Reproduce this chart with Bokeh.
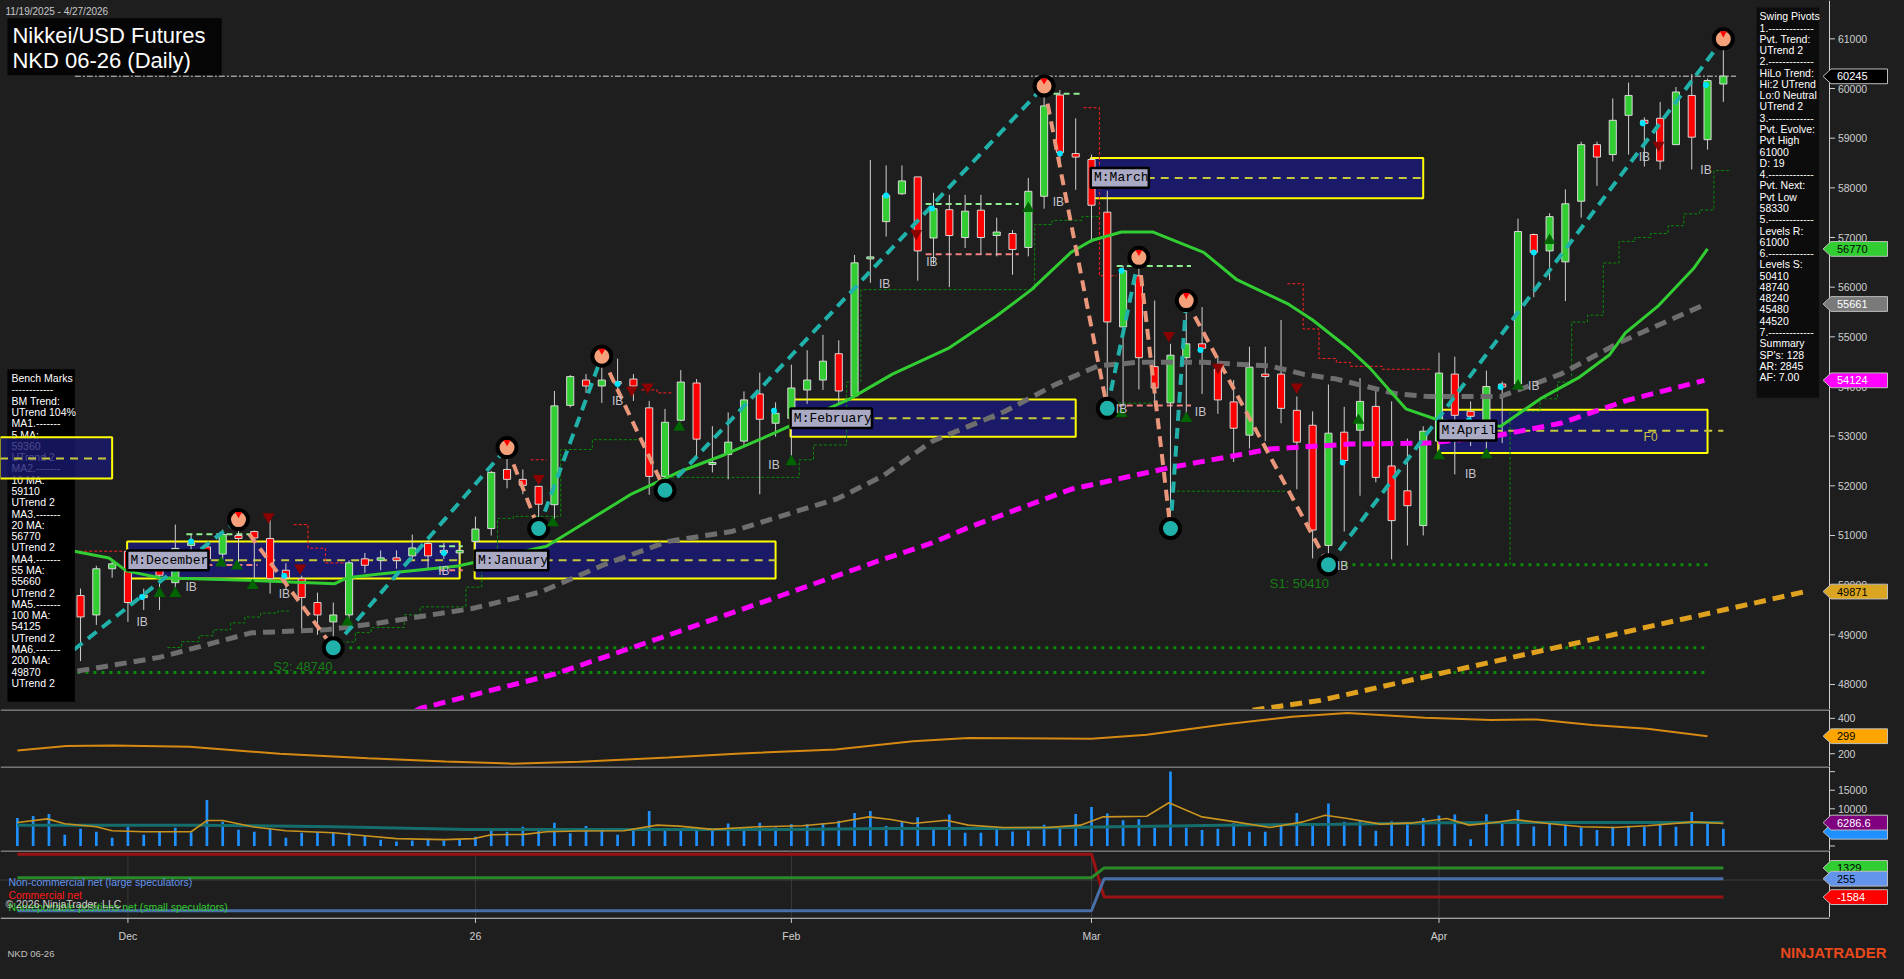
from bokeh.plotting import figure
from bokeh.layouts import column
from bokeh.models import Range1d, GlobalInlineStyleSheet
from bokeh.core.properties import value
from bokeh.embed import file_html
from bokeh.resources import INLINE

# ---------------- DATA ----------------
bar_open = [49000,49400,49200,49700,49790,49400,50330,50680,49750,50300,
            50050,50800,50770,50625,51000,51080,50940,50300,50130,49650,
            49260,49400,50530,50500,50550,50590,50840,50700,50650,50880,
            51140,52330,52130,51990,51620,53620,54130,54010,54100,54150,
            53570,52190,53320,54070,52440,52630,52900,53850,53260,53360,
            53930,54130,54660,53810,56580,57320,57880,58220,56990,57560,
            57000,57550,57040,57080,56800,57830,59870,58690,58570,57510,
            55200,56230,54400,53670,54580,54860,54350,53690,53020,54250,
            54250,53520,53220,50800,53080,53120,53600,52400,51900,51200,
            52900,54250,53500,53120,54050,54050,57060,56730,56510,57730,
            58870,58670,59460,59360,59400,58870,59860,58970,60090]
bar_high = [49600,49700,49900,50100,49930,50390,50490,50740,49930,50350,
            51220,51020,50800,51120,51320,51100,51400,50440,50190,49850,
            49650,50500,50650,50700,50700,51020,50900,50850,50800,51380,
            52300,52770,52330,52000,53910,54230,54250,54610,54560,54250,
            53710,53550,54330,54150,53200,53480,53900,54280,53680,54440,
            54730,55040,54930,56650,58560,58450,58450,58220,57900,57860,
            57860,57860,57400,57150,58200,60050,59970,59400,58670,57940,
            56430,56600,55730,54860,55730,55600,54600,54130,54800,54800,
            55340,53800,53500,54040,53590,54170,53950,53700,52950,53200,
            54680,54600,53700,54320,54100,57380,57080,57490,57970,58930,
            58930,59800,60120,59420,59730,60030,60290,60200,61000]
bar_low = [48700,48900,49000,49300,48470,49200,50150,49260,49500,49500,
           49950,50620,50500,50380,50350,50130,49830,49900,49040,49000,
           48740,49100,50250,50300,50330,50530,50330,50530,50500,50700,
           51000,51950,51830,51140,51200,53580,53870,53670,53850,53710,
           51820,51910,53300,52570,52270,52130,52800,51830,52990,52560,
           53650,53930,53650,53810,56090,57020,57860,56130,56460,56000,
           56790,56660,56620,56250,56620,57580,58500,57960,56900,53560,
           53600,53940,53600,51140,53430,53850,53450,52480,52750,52900,
           53260,51930,50540,50410,51080,51800,52070,50520,50800,51000,
           52600,52230,52800,52680,52860,54050,55800,56140,55720,57400,
           58040,58530,58670,58430,58370,58870,58370,58770,59730]
bar_close = [49400,49200,49700,49800,49360,50330,50430,49650,49800,50200,
             50740,50850,50530,51020,50940,50950,50130,50150,49750,49400,
             49400,50450,50400,50550,50500,50750,50590,50650,50700,51130,
             52270,52130,52010,51630,53610,54200,54010,54130,54050,54010,
             52190,53280,54090,52940,52460,52880,53730,53340,53460,53970,
             54130,54510,53910,56490,56600,57850,58140,56730,57580,57040,
             57530,57000,57110,56760,57930,59650,58710,58620,57650,55300,
             56330,54580,53970,54630,54860,54770,53730,53160,54390,54200,
             53560,52880,51110,53060,52510,53700,52170,51300,51600,53100,
             54270,53420,53400,54000,53990,57120,56700,57420,57680,58870,
             58620,59360,59860,59300,58540,59930,59020,60160,60250]
volume = [7554,8086,8618,3033,4629,3831,2235,5161,3033,3831,
          4895,3654,12344,6491,4363,3831,4629,2235,3565,3831,
          3565,3565,2767,1703,1171,1437,1969,1437,1703,2501,
          4097,3831,5161,4097,6225,3388,5338,4718,3033,4629,
          9418,4452,4097,4097,4629,6048,4629,6225,4984,5870,
          5870,6136,6757,8884,9418,5338,6579,7732,4540,8441,
          3565,3565,5161,3920,4097,5693,4718,8618,10480,8707,
          6934,7200,4806,20058,4895,4274,4629,6136,3831,3831,
          5338,8884,5338,11457,6491,6934,4097,6668,6136,7554,
          8175,8441,1791,8530,6048,9684,5250,6491,5693,4984,
          4274,5161,5427,5072,6491,5161,9152,6402,4629]

month_tick_bars = [7, 29, 49, 68, 90]
month_tick_labels = ["Dec", "26", "Feb", "Mar", "Apr"]
price_ticks = [48000, 49000, 50000, 51000, 52000, 53000, 54000, 55000, 56000, 57000, 58000, 59000, 60000, 61000]
ind_ticks = [200, 400]
vol_ticks = [0, 5000, 10000, 15000, 20000]
vol_tick_labels = ["", "5000", "10000", "15000", ""]

ma20_bars = [3.6,5.8,6.9,9.0,15.3,20.1,20.9,22.8,27.9,33.5,38.9,41.8,44.8,47.9,52.7,55.4,59.0,61.9,64.2,
             66.7,68.0,69.9,71.9,75.1,77.2,80.4,82.0,84.3,85.6,87.9,90.0,92.5,93.9,96.4,98.9,100.8,101.8,103.9,106.1,107.0]
ma20_vals = [50684,50546,50288,50150,50090,50030,50150,50220,50387,50783,51839,52268,52631,53060,53750,54250,54780,55400,55950,
             56700,56940,57110,57110,56700,56150,55670,55340,54760,54380,53550,53320,53220,53200,53750,54190,54640,55080,55630,56370,56770]
ma55_bars = [3.8,9.0,14.8,19.5,22.8,28.8,33.1,37.2,41.2,45.2,51.9,54.8,57.9,62.5,65.7,68.4,70.9,75.1,79.3,81.4,83.5,87.3,89.3,93.9,97.7,101.4,103.9,106.9]
ma55_vals = [48270,48546,49040,49100,49233,49530,49860,50420,50882,51080,51740,52200,52896,53496,54038,54415,54486,54486,54415,54248,54150,53852,53799,53799,54248,54882,55238,55661]
ma100_bars = [22.0,25.5,34.0,40.7,47.5,54.2,57.9,60.2,66.7,73.0,79.3,84.3,89.3,93.5,97.7,101.9,106.8]
ma100_vals = [46950,47516,48209,48936,49694,50453,50850,51160,51930,52370,52740,52840,52860,53000,53260,53720,54124]
ma200_bars = [78.2, 82.5, 113.2]
ma200_vals = [47480, 47680, 49871]

pivot_bars = [0, 14, 20, 31, 33, 37, 41, 65, 69, 71, 73, 74, 83, 108]
pivot_prices = [47800, 51320, 48740, 52770, 51140, 54610, 51910, 60050, 53560, 56600, 51140, 55730, 50410, 61000]

box_names = ["M:December", "M:January", "M:February", "M:March", "M:April"]
box_first = [7, 29, 49, 68, 90]
box_last = [28, 48, 67, 89, 107]
box_low = [50135, 50135, 52990, 57790, 52660]
box_high = [50880, 50880, 53740, 58600, 53530]
box_mid = [50500, 50500, 53360, 58200, 53110]
nov_box = [-1.1, 6.0, 52150, 52980, 52550]

support_prices = [50410, 48740, 48240]
support_from = [83, 20, 3.8]
support_to = [107, 107, 107]
last_price = 60245

stop_green = [
    ([9.5,10.4,11.5,12.4,13.5,14.4,15.4,16.5,17.3], [48744,48863,48982,49101,49240,49358,49438,49478,49478]),
    ([20.5,21.4,22.4,24.5,25.5,28.4,29.4,30.4,31.4,34.4,36.4,39.4], [48856,49048,49147,49404,49563,49959,50553,51345,51385,52731,52929,52929]),
    ([41.4,49.5,50.4,52.5,53.4,64.0,64.4,65.5,67.4,68.5], [52170,52525,52823,54090,55950,55950,57260,57345,57420,57420]),
    ([69.7,71.9], [53665,53665]),
    ([73.4,80.4], [51892,51892]),
    ([94.5,94.5,96.4,97.5,98.4,99.4,100.4,101.4,102.4,103.4,104.5,105.5,106.5,107.4,108.5],
     [50410,53500,53753,54090,55298,55436,56486,56921,57000,57080,57238,57476,57555,58347,58347]),
]
stop_red = [
    ([3.6,6.9], [50684,50684]),
    ([17.5,18.4,19.5,20.7], [51219,50744,50447,50447]),
    ([32.5,33.5], [52525,52525]),
    ([39.5,40.5,41.4], [53931,53872,53872]),
    ([67.5,68.5,69.6], [59614,56230,56230]),
    ([80.4,81.4,82.4,83.5,84.4,86.4,89.5], [56070,55159,54565,54486,54407,54347,54347]),
]
ibline_from = [10.7, 10.7, 26.7, 26.7, 57.5, 57.5, 65.6, 69.6, 69.6]
ibline_to = [15.2, 15.2, 28.2, 28.2, 63.4, 63.4, 67.4, 74.3, 74.3]
ibline_price = [51027, 50407, 50783, 50302, 57674, 56664, 59895, 56426, 53615]
ibline_is_high = [True, False, True, False, True, False, True, True, False]

ib_bars = [7.9,11.0,16.9,27.0,38.0,47.9,54.9,57.9,65.9,69.9,74.9,83.9,92.0,96.0,103.0,106.9]
ib_prices = [49259,49971,49813,50288,53714,52427,56070,56505,57713,53555,53496,50387,52229,54010,58624,58367]
up_sig_bars = [9.0,10.0,12.9,13.9,14.9,20.9,33.9,41.9,49.0,64.0,69.9,74.0,84.9,90.0,93.0,95.0,97.0]
up_sig_prices = [49833,49833,50447,50387,49990,49259,51258,53179,52486,57585,53456,53357,53318,52605,52625,54010,56941]
dn_sig_bars = [15.9,17.9,33.0,38.9,39.9,56.9,72.9,76.0,81.0,103.9]
dn_sig_prices = [51377,50348,52150,53930,53990,57080,55030,54387,53990,58860]
dot_bars = [7.9,11.0,16.9,27.0,38.0,47.9,55.0,57.9,66.0,69.9,74.9,83.9,91.9,93.9,96.0,102.9,106.9]
dot_prices = [49760,50880,50190,50650,54050,53510,57846,57585,58690,56330,54733,52470,53320,53990,56700,59300,60070]

ind_bars = [0,3.1,6.0,10.9,16.6,22.2,27.1,31.3,35.6,41.2,45.5,51.8,56.7,60.2,68.0,71.5,76.5,80.7,84.2,89.1,93.3,96.2,99.7,103.2,107.0]
ind_vals = [218,243,246,239,200,174,156,144,154,178,200,224,270,289,285,307,367,409,430,404,391,394,363,341,299]

vma_bars = [0,1.9,3,5,6,8,11,12,13,14.9,17,20,22,24,27,28.9,30,32.1,33.5,35.6,38.4,40.5,41.9,44.0,46.9,49.7,51.8,53.9,
            55.3,56.7,58.8,60.2,62.4,65.2,67.3,68.7,71.5,72.9,75.0,77.1,79.3,81.4,82.8,84.2,86.3,88.4,90.5,91.9,93.4,94.8,
            96.9,99.0,101.1,103.2,106.1,108]
vma_vals = [6304,7288,5958,5160,4096,3830,3830,6836,6836,5160,4096,3564,2766,1968,1702,1968,3032,3122,3831,4008,4097,5604,5338,4452,5161,5427,6225,7820,
            7111,6047,6934,5604,4983,4983,5604,7820,7997,11633,7820,6490,4983,6490,8264,7377,5870,6225,7377,5604,6225,7111,
            6047,5161,4983,5427,6490,6047]
vavg_bars = [0,11.6,20.1,28.5,38.4,48.3,55.3,62.4,69.4,76.4,83.5,90.5,97.6,108]
vavg_vals = [5604,5604,5161,4452,4452,4452,4718,4718,5161,5604,5870,6225,6313,6287]

cot_bars = [0, 68, 68.8, 108]
cot_commercial = [2706, 2706, -1584, -1584]
cot_noncommercial = [-2953, -2953, 255, 255]
cot_nonreportable = [345, 345, 1329, 1329]

bench_lines = ["Bench Marks", "------------", "BM Trend:", "UTrend 104%", "MA1.-------", "5 MA:", "59360", "UTrend 2",
               "MA2.-------", "10 MA:", "59110", "UTrend 2", "MA3.-------", "20 MA:", "56770", "UTrend 2",
               "MA4.-------", "55 MA:", "55660", "UTrend 2", "MA5.-------", "100 MA:", "54125", "UTrend 2",
               "MA6.-------", "200 MA:", "49870", "UTrend 2"]
swing_lines = ["Swing Pivots", "1.-------------", "Pvt. Trend:", "UTrend 2", "2.-------------", "HiLo Trend:",
               "Hi:2 UTrend", "Lo:0 Neutral", "UTrend 2", "3.-------------", "Pvt. Evolve:", "Pvt High", "61000",
               "D: 19", "4.-------------", "Pvt. Next:", "Pvt Low", "58330", "5.-------------", "Levels R:", "61000",
               "6.-------------", "Levels S:", "50410", "48740", "48240", "45480", "44520", "7.-------------",
               "Summary", "SP's: 128", "AR: 2845", "AF: 7.00"]

# ---------------- STYLE / GEOMETRY ----------------
BG = "#1e1e1e"
FONT = "Liberation Sans"
AXC = "#cfcfcf"
W = 1888


def mx(X):  # reference pixel x -> bar index
    return (X - 17.0) / 15.93


def my(Y):  # reference pixel y -> price (main panel)
    return 61000.0 - (Y - 39.0) * 19.8


def iv(Y):  # indicator panel
    return 400.0 - (Y - 730.0) * 5.556


def vv(Y):  # volume panel
    return (859.4 - Y) * 266.0


def cyv(Y):  # COT panel
    return -1584.0 - (Y - 911.3) * 98.4


def fy(Y):  # footer panel uses reference pixels directly
    return Y


XR = Range1d(mx(0), mx(1904))
AX = mx(1844.5)


def make_fig(h, conv, top_ref, bot_ref):
    p = figure(width=W, height=h, x_range=XR, y_range=Range1d(conv(bot_ref), conv(top_ref)), title=None,
               output_backend="svg", toolbar_location=None, x_axis_location=None, y_axis_location=None,
               min_border_left=0, min_border_right=0, min_border_top=0, min_border_bottom=0,
               background_fill_color=BG, border_fill_color=BG, outline_line_color=None)
    p.grid.visible = False
    return p


def right_axis(p, conv, top_ref, bot_ref, ticks, labels):
    p.line([AX, AX], [conv(bot_ref), conv(top_ref)], line_color=AXC, line_width=1)
    n = len(ticks)
    p.segment(x0=[AX] * n, x1=[mx(1850)] * n, y0=ticks, y1=ticks, line_color=AXC, line_width=1)
    p.text([mx(1853)] * n, ticks, text=labels, text_font=value(FONT), text_font_size="10.5px",
           text_color=AXC, text_align="left", text_baseline="middle")


def tag(p, upp, y, txt, bg, fg):
    h = 7.5 * upp
    p.patch([mx(1838), mx(1846), mx(1903), mx(1903), mx(1846)], [y, y + h, y + h, y - h, y - h],
            fill_color=bg, line_color="#bdbdbd", line_width=1)
    p.text([mx(1852)], [y], text=[txt], text_font=value(FONT), text_font_size="11px",
           text_color=fg, text_align="left", text_baseline="middle")


def top_divider(p, conv, top_ref):
    p.line([mx(0), AX], [conv(top_ref + 0.5), conv(top_ref + 0.5)], line_color=AXC, line_width=1)


# ---------------- MAIN PRICE PANEL ----------------
main = make_fig(709, my, 0, 721)

lefts = [f - 0.05 for f in box_first]
main.quad(left=lefts, right=box_last, bottom=box_low, top=box_high,
          fill_color="#191970", fill_alpha=0.9, line_color="#ffff00", line_width=2)
mid_right = list(box_last)
mid_right[-1] = 108.0
main.segment(x0=lefts, x1=mid_right, y0=box_mid, y1=box_mid, line_color="#c8c83c", line_width=2, line_dash="8 6")

main.segment(x0=support_from, x1=support_to, y0=support_prices, y1=support_prices,
             line_color="#0b8a0b", line_width=3, line_dash="3 5")
for xs, ys in stop_green:
    main.step(xs, ys, mode="after", line_color="#0a8a0a", line_width=1, line_dash="3 2")
for xs, ys in stop_red:
    main.step(xs, ys, mode="after", line_color="#ff2020", line_width=1, line_dash="3 2")
main.segment(x0=ibline_from, x1=ibline_to, y0=ibline_price, y1=ibline_price,
             line_color=["#90ee90" if h else "#f08080" for h in ibline_is_high], line_width=2, line_dash="6 4")
main.line([mx(75), 108.8], [last_price, last_price], line_color="#9a9a9a", line_width=1.5, line_dash="6 2 2 2")

bars = list(range(len(bar_open)))
body_top, body_bot, body_col = [], [], []
for o, c in zip(bar_open, bar_close):
    t, b = max(o, c), min(o, c)
    if t - b < 40:
        m = (t + b) / 2.0
        t, b = m + 20, m - 20
    body_top.append(t)
    body_bot.append(b)
    body_col.append("#32cd32" if c >= o else "#ff0000")
main.segment(x0=bars, y0=bar_low, x1=bars, y1=bar_high, line_color="#cfcfcf", line_width=1)
main.vbar(x=bars, width=0.45, top=body_top, bottom=body_bot, fill_color=body_col,
          line_color="#d8d8d8", line_width=1)

main.line(ma100_bars, ma100_vals, line_color="#ff00ff", line_width=5, line_dash="12 7")
main.line(ma55_bars, ma55_vals, line_color="#6e6e6e", line_width=5, line_dash="12 7")
main.line(ma200_bars, ma200_vals, line_color="#e0a21e", line_width=5, line_dash="12 7")
main.line(ma20_bars, ma20_vals, line_color="#32cd32", line_width=3)

up_xs, up_ys, dn_xs, dn_ys = [], [], [], []
for k in range(len(pivot_bars) - 1):
    seg_x = [pivot_bars[k], pivot_bars[k + 1]]
    seg_y = [pivot_prices[k], pivot_prices[k + 1]]
    if pivot_prices[k + 1] > pivot_prices[k]:
        up_xs.append(seg_x); up_ys.append(seg_y)
    else:
        dn_xs.append(seg_x); dn_ys.append(seg_y)
main.multi_line(up_xs, up_ys, line_color="#20b2aa", line_width=4, line_dash="11 7")
main.multi_line(dn_xs, dn_ys, line_color="#e9967a", line_width=4, line_dash="11 7")
is_high = [pivot_prices[k] > pivot_prices[k - 1] if k > 0 else False for k in range(len(pivot_prices))]
main.scatter(pivot_bars[1:], pivot_prices[1:], size=19, marker="circle",
             fill_color=["#f4a07a" if h else "#20b2aa" for h in is_high[1:]],
             line_color="#000000", line_width=4)
hx = [b for b, h in zip(pivot_bars, is_high) if h]
hy = [v + 110 for v, h in zip(pivot_prices, is_high) if h]
main.scatter(hx, hy, marker="inverted_triangle", size=7, fill_color="#ff0000", line_color=None)

main.scatter(up_sig_bars, up_sig_prices, marker="triangle", size=12, fill_color="#006400", line_color=None)
main.scatter(dn_sig_bars, dn_sig_prices, marker="inverted_triangle", size=12, fill_color="#8b0000", line_color=None)
main.scatter(dot_bars, dot_prices, marker="circle", size=6, fill_color="#00e5ff", line_color=None)
main.text(ib_bars, ib_prices, text=["IB"] * len(ib_bars), text_font=value(FONT), text_font_size="12px",
          text_color="#c4c4cc", text_align="center", text_baseline="middle")

main.text([mx(275), mx(1280)], [my(677), my(593)], text=["S2: 48740", "S1: 50410"],
          text_font=value(FONT), text_font_size="13px", text_color="#167d16",
          text_align="left", text_baseline="middle")
main.text([mx(1657)], [my(444)], text=["F0"], text_font=value(FONT), text_font_size="12px",
          text_color="#c8c040", text_align="left", text_baseline="middle")

# month labels (grey tags with black frame)
lab_w = [len(nm) * 7.8 + 4 for nm in box_names]
main.quad(left=lefts, right=[f - 0.05 + w / 15.93 for f, w in zip(box_first, lab_w)],
          bottom=[m - 10 * 19.8 for m in box_mid], top=[m + 10 * 19.8 for m in box_mid],
          fill_color="#aaaac4", line_color="#000000", line_width=2.5)
main.text([f + 2.5 / 15.93 for f in box_first], box_mid, text=box_names, text_font=value("Liberation Mono"),
          text_font_size="13px", text_color="#000000", text_align="left", text_baseline="middle")

# bench marks box + november box
main.quad(left=[mx(7)], right=[mx(75)], top=[my(375)], bottom=[my(713)], fill_color="#000000", line_color=None)
main.text([mx(11)] * len(bench_lines), [my(384 + 11.48 * k) for k in range(len(bench_lines))], text=bench_lines,
          text_font=value(FONT), text_font_size="10.5px", text_color="#ffffff",
          text_align="left", text_baseline="middle")
main.quad(left=[nov_box[0]], right=[nov_box[1]], bottom=[nov_box[2]], top=[nov_box[3]],
          fill_color="#191970", fill_alpha=0.8, line_color="#ffff00", line_width=2)
main.line([nov_box[0], nov_box[1]], [nov_box[4], nov_box[4]], line_color="#c8c83c", line_width=2, line_dash="8 6")

# swing pivots box
main.quad(left=[mx(1771)], right=[mx(1834)], top=[my(7)], bottom=[my(404)], fill_color="#0c0c0c", line_color=None)
main.text([mx(1774)] * len(swing_lines), [my(16 + 11.47 * k) for k in range(len(swing_lines))], text=swing_lines,
          text_font=value(FONT), text_font_size="10.5px", text_color="#ffffff",
          text_align="left", text_baseline="middle")

# title
main.text([mx(5)], [my(11)], text=["11/19/2025 - 4/27/2026"], text_font=value(FONT), text_font_size="10px",
          text_color="#c8c8c8", text_align="left", text_baseline="middle")
main.quad(left=[mx(7)], right=[mx(223)], top=[my(18)], bottom=[my(76)], fill_color="#050505", line_color=None)
main.text([mx(12), mx(12)], [my(36), my(61)], text=["Nikkei/USD Futures", "NKD 06-26 (Daily)"],
          text_font=value(FONT), text_font_size="22px", text_color="#ffffff",
          text_align="left", text_baseline="middle")

right_axis(main, my, 0, 721, price_ticks, [str(t) for t in price_ticks])
tag(main, 19.8, 60245, "60245", "#000000", "#ffffff")
tag(main, 19.8, 56770, "56770", "#32cd32", "#000000")
tag(main, 19.8, 55661, "55661", "#7a7a7a", "#ffffff")
tag(main, 19.8, 54124, "54124", "#ff00ff", "#ffffff")
tag(main, 19.8, 49871, "49871", "#daa520", "#000000")

# ---------------- INDICATOR PANEL ----------------
ind = make_fig(57, iv, 721, 779)
top_divider(ind, iv, 721)
ind.line(ind_bars, ind_vals, line_color="#d68a12", line_width=2)
right_axis(ind, iv, 721, 779, ind_ticks, [str(t) for t in ind_ticks])
tag(ind, 5.556, 299, "299", "#ffa500", "#000000")

# ---------------- VOLUME PANEL ----------------
vol = make_fig(84, vv, 779, 864)
top_divider(vol, vv, 779)
vol.vbar(x=bars, width=0.17, top=volume, bottom=0, fill_color="#1e90ff", line_color=None)
vol.line(vavg_bars, vavg_vals, line_color="#156e6e", line_width=3)
vol.line(vma_bars, vma_vals, line_color="#c8921e", line_width=1.6)
right_axis(vol, vv, 779, 864, vol_ticks, vol_tick_labels)
tag(vol, 266, vv(845), "", "#1e90ff", "#000000")
tag(vol, 266, 6287, "6286.6", "#800080", "#ffffff")

# ---------------- COT PANEL ----------------
cot = make_fig(67, cyv, 864, 932)
top_divider(cot, cyv, 864)
nt = len(month_tick_bars)
cot.segment(x0=month_tick_bars, x1=month_tick_bars, y0=[cyv(932)] * nt, y1=[cyv(865)] * nt,
            line_color="#3a3a3a", line_width=1)
cot.line([mx(0), AX], [cyv(894), cyv(894)], line_color="#3c3c3c", line_width=1)
cot.line(cot_bars, cot_commercial, line_color="#9a1212", line_width=3)
cot.line(cot_bars, cot_nonreportable, line_color="#2a8a2a", line_width=3)
cot.line(cot_bars, cot_noncommercial, line_color="#4a6fa8", line_width=3)
cot.text([mx(8), mx(8), mx(8)], [cyv(896), cyv(909), cyv(921)],
         text=["Non-commercial net (large speculators)", "Commercial net",
               "Nonreportable positions net (small speculators)"],
         text_font=value(FONT), text_font_size="10.5px",
         text_color=["#6495ed", "#ff1a1a", "#32cd32"], text_align="left", text_baseline="middle")
cot.text([mx(5)], [cyv(918)], text=["\u00a9 2026 NinjaTrader, LLC"], text_font=value(FONT),
         text_font_size="10.5px", text_color="#d0d0d0", text_align="left", text_baseline="middle")
right_axis(cot, cyv, 864, 932, [], [])
tag(cot, 98.4, 1329, "1329", "#32cd32", "#000000")
tag(cot, 98.4, 255, "255", "#6495ed", "#000000")
tag(cot, 98.4, -1584, "-1584", "#ff0000", "#ffffff")

# ---------------- FOOTER (time axis) ----------------
foot = make_fig(46, fy, 932, 979)
foot.line([mx(0), AX], [932.6, 932.6], line_color=AXC, line_width=1.2)
foot.segment(x0=month_tick_bars, x1=month_tick_bars, y0=[932.6] * nt, y1=[937.5] * nt, line_color=AXC, line_width=1)
foot.text(month_tick_bars, [951] * nt, text=month_tick_labels, text_font=value(FONT), text_font_size="10.5px",
          text_color=AXC, text_align="center", text_baseline="middle")
foot.text([mx(7)], [969], text=["NKD 06-26"], text_font=value(FONT), text_font_size="9.5px",
          text_color="#c0c0c0", text_align="left", text_baseline="middle")
foot.text([mx(1902)], [968], text=["NINJATRADER"], text_font=value(FONT), text_font_size="15px",
          text_font_style="bold", text_color="#e8481c", text_align="right", text_baseline="middle")

layout = column(main, ind, vol, cot, foot, spacing=0,
                stylesheets=[GlobalInlineStyleSheet(css="html, body { background-color: #1e1e1e; }")])

open("out.html", "w").write(file_html(layout, INLINE))
